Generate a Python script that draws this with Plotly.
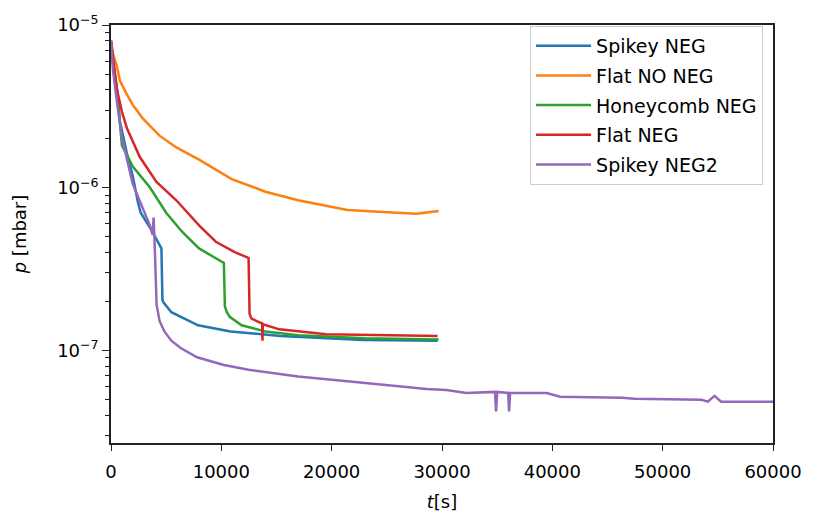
import plotly.graph_objects as go

# Pressure decay measurements, time in seconds, pressure in mbar
t_spikey = [0, 180, 540, 808, 1435, 1973, 2420, 2690, 3670, 4480, 4570, 4660, 4750,
            5470, 7890, 10850, 15340, 22870, 29600]
p_spikey = [8.0e-6, 5.8e-6, 4.02e-6, 2.56e-6, 1.63e-6, 1.18e-6, 8.26e-7, 7.02e-7, 5.5e-7,
            4.42e-7, 4.24e-7, 2.06e-7, 1.98e-7, 1.72e-7, 1.43e-7, 1.31e-7, 1.23e-7,
            1.16e-7, 1.15e-7]

t_flat_no = [0, 180, 540, 808, 1435, 1973, 2870, 4395, 5920, 7980, 10940, 13990, 16950,
             21430, 25910, 27700, 29700]
p_flat_no = [8.0e-6, 6.65e-6, 5.57e-6, 4.54e-6, 3.75e-6, 3.23e-6, 2.67e-6, 2.09e-6, 1.77e-6,
             1.49e-6, 1.13e-6, 9.46e-7, 8.38e-7, 7.31e-7, 7.02e-7, 6.92e-7, 7.21e-7]

t_honey = [0, 180, 540, 808, 990, 1973, 3500, 5000, 6460, 7980, 9500, 10140, 10230,
           10320, 10500, 10760, 11840, 13990, 16950, 22960, 29700]
p_honey = [8.0e-6, 6.04e-6, 4.02e-6, 2.56e-6, 1.82e-6, 1.35e-6, 1.01e-6, 7.02e-7, 5.35e-7,
           4.24e-7, 3.7e-7, 3.5e-7, 3.45e-7, 1.87e-7, 1.72e-7, 1.61e-7, 1.43e-7, 1.31e-7,
           1.24e-7, 1.19e-7, 1.17e-7]

t_flat = [0, 360, 540, 990, 1435, 2600, 4120, 5920, 7980, 9500, 11210, 12300, 12470,
          12560, 12740, 13460, 13700, 13730, 13760, 15250, 19500, 29600]
p_flat = [8.0e-6, 5.06e-6, 4.02e-6, 2.93e-6, 2.33e-6, 1.55e-6, 1.086e-6, 8.38e-7, 5.88e-7,
          4.66e-7, 4.02e-7, 3.75e-7, 3.7e-7, 1.68e-7, 1.57e-7, 1.49e-7, 1.47e-7, 1.15e-7,
          1.45e-7, 1.35e-7, 1.26e-7, 1.23e-7]

t_spikey2 = [0, 180, 540, 990, 1973, 3050, 3590, 3770, 3860, 3950, 4040, 4130, 4400, 4840,
             5470, 6280, 7800, 10230, 12470, 16950, 21430, 25910, 28600, 30400, 32200,
             34800, 34900, 35000, 36000, 36080, 36170, 39500, 40700, 46300, 47500, 53500,
             54100, 54700, 55300, 56000, 60000]
p_spikey2 = [8.0e-6, 5.27e-6, 3.37e-6, 2.03e-6, 1.057e-6, 7.02e-7, 5.71e-7, 5.13e-7, 6.56e-7,
             4.66e-7, 2.36e-7, 1.92e-7, 1.52e-7, 1.31e-7, 1.15e-7, 1.04e-7, 9.09e-8, 8.15e-8,
             7.62e-8, 6.92e-8, 6.47e-8, 6.04e-8, 5.8e-8, 5.72e-8, 5.49e-8, 5.57e-8, 4.23e-8,
             5.57e-8, 5.49e-8, 4.23e-8, 5.49e-8, 5.49e-8, 5.2e-8, 5.13e-8, 5.06e-8, 4.99e-8,
             4.85e-8, 5.27e-8, 4.85e-8, 4.85e-8, 4.85e-8]

series = [
    ("Spikey NEG", t_spikey, p_spikey, "#1f77b4"),
    ("Flat NO NEG", t_flat_no, p_flat_no, "#ff7f0e"),
    ("Honeycomb NEG", t_honey, p_honey, "#2ca02c"),
    ("Flat NEG", t_flat, p_flat, "#d62728"),
    ("Spikey NEG2", t_spikey2, p_spikey2, "#9467bd"),
]

x_ticks = [0, 10000, 20000, 30000, 40000, 50000, 60000]
y_ticks = [1e-7, 1e-6, 1e-5]
y_ticktext = ["10<sup>\u22127</sup>", "10<sup>\u22126</sup>", "10<sup>\u22125</sup>"]
y_minor = [m * 10.0 ** e for e in (-8, -7, -6) for m in range(2, 10)]

fig = go.Figure()
for i, (name, t, p, color) in enumerate(series):
    fig.add_trace(go.Scatter(
        x=t, y=p, mode="lines", name=name, legendgroup=f"g{i}",
        line=dict(color=color, width=2.5),
    ))

font = dict(family="DejaVu Sans", size=18, color="#000000")

fig.update_layout(
    width=814, height=521,
    margin=dict(l=111, r=34, t=15, b=72),
    paper_bgcolor="white", plot_bgcolor="white",
    font=font,
    showlegend=True,
    legend=dict(
        x=0.985, xanchor="right", y=0.998, yanchor="top",
        bgcolor="rgba(255,255,255,0.8)", bordercolor="#cccccc", borderwidth=1,
        font=dict(family="DejaVu Sans", size=19, color="#000000"),
        tracegroupgap=2, itemwidth=55,
    ),
)

fig.update_xaxes(
    range=[0, 60000], tickvals=x_ticks, tickformat="d",
    showgrid=False, zeroline=False,
    showline=True, linecolor="#222222", linewidth=1.5, mirror=True,
    ticks="outside", ticklen=6, tickwidth=1.3, tickcolor="#222222",
    tickfont=font, ticklabelstandoff=6,
    title=dict(text="<i>t</i>[s]", font=font, standoff=14),
)

fig.update_yaxes(
    type="log", range=[-7.568, -5],
    tickvals=y_ticks, ticktext=y_ticktext,
    showgrid=False, zeroline=False,
    showline=True, linecolor="#222222", linewidth=1.5, mirror=True,
    ticks="outside", ticklen=7, tickwidth=1.3, tickcolor="#222222",
    tickfont=font,
    minor=dict(tickvals=y_minor, ticks="outside", ticklen=4, tickwidth=1, tickcolor="#222222",
               showgrid=False),
    title=dict(text="<i>p</i> [mbar]", font=font, standoff=26),
)

fig.write_html("out.html")
